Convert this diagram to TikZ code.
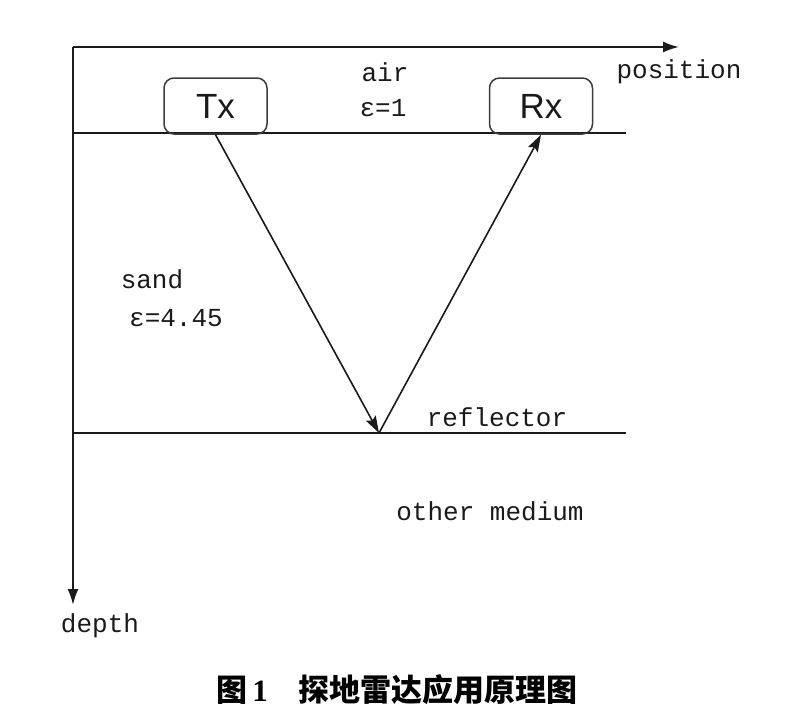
\documentclass[tikz,border=0pt]{standalone}
\usepackage{fontspec}
\setmainfont{Liberation Serif}
\newfontfamily\monofont{Liberation Mono}
\newfontfamily\arialfont{Liberation Sans}
\newfontfamily\cjk{Noto Sans CJK SC}
\usetikzlibrary{arrows.meta}
\definecolor{ink}{HTML}{1A1A1A}
\begin{document}
\begin{tikzpicture}[x=1pt,y=-1pt,
  lbl/.style={font=\monofont\fontsize{26}{28}\selectfont, text=ink, inner sep=0pt},
  antenna/.style={draw=ink!85, line width=1.5pt, rounded corners=10pt, minimum width=103pt, minimum height=56pt, inner sep=0pt, font=\arialfont\fontsize{35}{38}\selectfont, text=ink},
  axis/.style={line width=2pt, draw=ink, -{Latex[length=16pt,width=11pt]}},
  layer/.style={line width=2pt, draw=ink},
  ray/.style={line width=1.6pt, draw=ink, -{Stealth[length=17pt,width=11pt,inset=3pt]}}
]
\useasboundingbox (0,0) rectangle (795,728);
% axes
\coordinate (O) at (73,47);
\coordinate (X) at (679,47);
\coordinate (Y) at (73,605);
\draw[axis] (O) -- (X);
\draw[axis] (O) -- (Y);
% layers
\coordinate (S1) at (73,133);
\coordinate (S2) at (626,133);
\coordinate (R1) at (73,433);
\coordinate (R2) at (626,433);
\draw[layer] (S1) -- (S2);
\draw[layer] (R1) -- (R2);
% antennas
\node[antenna] (tx) at (215.5,106) {Tx};
\node[antenna] (rx) at (541,106) {Rx};
% reflection point
\coordinate (P) at (379,433);
\draw[ray] (tx.south) -- (P);
\draw[ray] (P) -- (rx.south);
% labels
\node[lbl] (air) at (385,72) {air};
\node[lbl] (eps1) at (383,108) {ε=1};
\node[lbl] (pos) at (679,72) {position};
\node[lbl] (sand) at (152,279) {sand};
\node[lbl] (eps2) at (176,318) {ε=4.45};
\node[lbl] (refl) at (497,417) {reflector};
\node[lbl] (other) at (490,511) {other medium};
\node[lbl] (depth) at (100,626) {depth};
\node[inner sep=0pt, text=black] (cap) at (397,690) {\cjk\bfseries\fontsize{31}{34}\selectfont 图\,{\rmfamily\bfseries 1}\quad 探地雷达应用原理图};
\end{tikzpicture}
\end{document}
